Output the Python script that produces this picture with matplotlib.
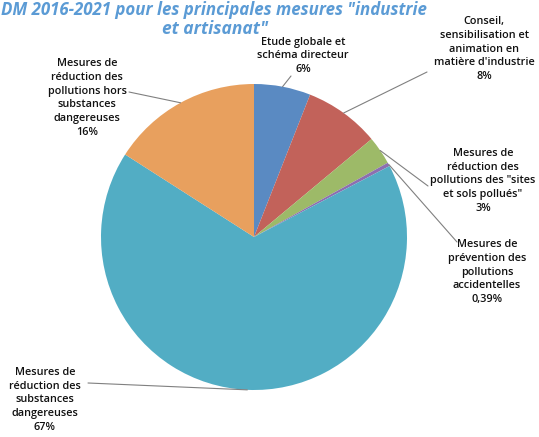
import matplotlib
matplotlib.use("Agg")
import matplotlib.pyplot as plt
import numpy as np

categories = [
    "Etude globale et\nschéma directeur",
    "Conseil,\nsensibilisation et\nanimation en\nmatière d'industrie",
    "Mesures de\nréduction des\npollutions des \"sites\net sols pollués\"",
    "Mesures de\nprévention des\npollutions\naccidentelles",
    "Mesures de\nréduction des\nsubstances\ndangereuses",
    "Mesures de\nréduction des\npollutions hors\nsubstances\ndangereuses",
]
values = [6, 8, 3, 0.39, 67, 16]
pct_labels = ["6%", "8%", "3%", "0,39%", "67%", "16%"]
colors = ["#5A8AC2", "#C2625A", "#9DBA68", "#8C6FB0", "#52ADC4", "#E8A05E"]

W, H = 539, 437
fig = plt.figure(figsize=(W / 100, H / 100), dpi=100)

def fpx(x, y):
    return (x / W, 1 - y / H)

cx, cy, r = 254, 237, 153
ax = fig.add_axes([(cx - r) / W, (H - cy - r) / H, 2 * r / W, 2 * r / H])
wedges, _ = ax.pie(values, colors=colors, startangle=90, counterclock=False,
                   radius=1, wedgeprops=dict(linewidth=0))
ax.set_xlim(-1, 1)
ax.set_ylim(-1, 1)
ax.axis("off")

# label text centres (px) and leader end points (px)
label_pos = [(303, 56), (484, 49), (483, 181), (487, 272), (45, 400), (87, 98)]
line_end = [(291, 76), (427, 72), (428, 186), (457, 242), (88, 383), (129, 92)]

for w, cat, pct, lp, le in zip(wedges, categories, pct_labels, label_pos, line_end):
    ang = np.deg2rad((w.theta1 + w.theta2) / 2)
    xy = (np.cos(ang) * 1.0, np.sin(ang) * 1.0)
    ax.annotate("", xy=xy, xycoords="data", xytext=fpx(*le), textcoords="figure fraction",
                arrowprops=dict(arrowstyle="-", color="#808080", lw=0.8,
                                shrinkA=0, shrinkB=0), annotation_clip=False)
    fig.text(*fpx(*lp), cat + "\n" + pct, ha="center", va="center", fontsize=7.8,
             linespacing=1.33, color="#111111", family="Open Sans", fontweight="semibold")

title_kw = dict(color="#5B9BD5", fontstyle="italic", fontweight="bold", family="Open Sans")
fig.text(*fpx(1, 1), "DM 2016-2021 pour les principales mesures \"industrie",
         ha="left", va="top", fontsize=12.2, **title_kw)
fig.text(*fpx(215, 34), "et artisanat\"", ha="center", va="baseline", fontsize=12.5,
         **title_kw)

fig.savefig("out.png", dpi=100)
